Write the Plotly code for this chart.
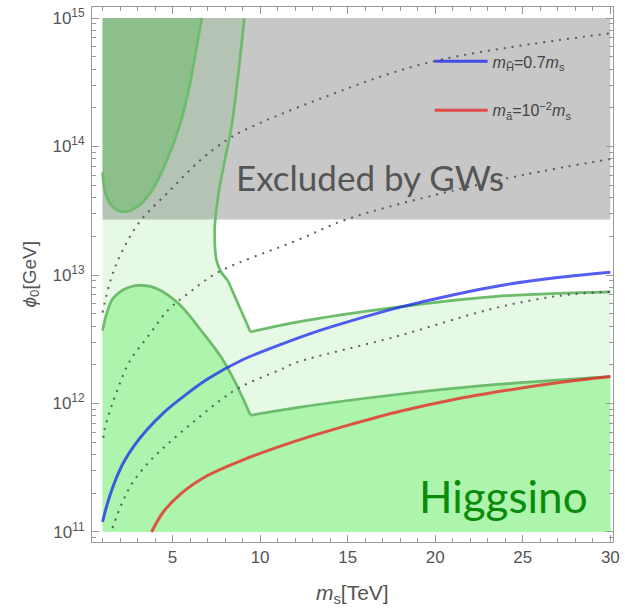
import plotly.graph_objects as go

# ---------------- data ----------------
X_MIN, X_MAX = 1.0, 30.0
PHI_MIN, PHI_MAX = 1e11, 1e15
PHI_GW = 2.7e13  # GW exclusion bound

# blue: m_H~ = 0.7 m_s
blue_x = [1.0, 1.3, 1.7, 2.2, 2.8, 3.5, 4.5, 5.5, 7.0, 9.0, 11.0, 13.0, 15.0, 18.0, 21.0, 24.0, 27.0, 30.0]
blue_phi = [1.2e11, 1.7e11, 2.45e11, 3.47e11, 4.68e11, 6.17e11, 8.5e11, 1.1e12, 1.55e12, 2.19e12,
            2.82e12, 3.55e12, 4.32e12, 5.62e12, 7.0e12, 8.4e12, 9.55e12, 1.05e13]

# red: m_a~ = 1e-2 m_s
red_x = [3.8, 4.5, 5.5, 7.0, 9.0, 11.0, 13.0, 15.0, 18.0, 21.0, 24.0, 27.0, 30.0]
red_phi = [1.0e11, 1.45e11, 2.0e11, 2.75e11, 3.63e11, 4.57e11, 5.62e11, 6.76e11, 8.7e11,
           1.07e12, 1.26e12, 1.45e12, 1.62e12]

# lower green boundary (left lobe, then right branch after the kink)
lowL_x = [1.0, 1.2, 1.57, 2.0, 2.6, 3.2, 4.05, 5.34, 6.63, 7.77, 8.54, 9.45]
lowL_phi = [3.7e12, 4.8e12, 6.5e12, 7.4e12, 8.1e12, 8.3e12, 7.9e12, 6.0e12, 3.7e12, 2.3e12,
            1.5e12, 8.1e11]
lowR_x = [9.45, 12.1, 17.7, 23.35, 30.0]
lowR_phi = [8.1e11, 9.3e11, 1.17e12, 1.4e12, 1.62e12]

# upper green boundary (steep branch, straight drop, right branch)
upL_x = [9.1, 8.73, 8.36, 7.98, 7.6, 7.42, 7.4, 7.5, 7.75, 8.15]
upL_phi = [1e15, 3.47e14, 1.41e14, 7.8e13, 4.1e13, 2.5e13, 2.24e13, 1.32e13, 1.07e13, 9.1e12]
upR_x = [9.45, 12.1, 17.7, 23.35, 30.0]
upR_phi = [3.6e12, 4.3e12, 5.6e12, 6.8e12, 7.4e12]

# U-shaped green boundary (inside the GW region)
u_x = [1.0, 1.22, 1.69, 2.25, 3.0, 3.76, 4.69, 5.44, 6.0, 6.38, 6.67]
u_phi = [6.3e13, 4.1e13, 3.3e13, 3.1e13, 3.4e13, 4.4e13, 7.9e13, 1.51e14, 3.1e14, 6.0e14, 1e15]

# dotted contours
dA_x = [1.0, 1.5, 2.1, 3.1, 4.88, 6.57, 8.07, 9.0, 13.2, 19.6, 30.0]
dA_phi = [5.1e12, 9.5e12, 1.51e13, 2.57e13, 4.6e13, 7.8e13, 1.12e14, 1.32e14, 2.29e14, 4.5e14, 7.6e14]

dB_x = [1.05, 1.11, 1.39, 1.78, 2.52, 3.65, 4.78, 5.9, 7.6, 12.1, 14.9, 20.0, 25.0, 30.0]
dB_phi = [5.4e11, 6.2e11, 8.5e11, 1.2e12, 2.1e12, 3.4e12, 5.4e12, 7.2e12, 1.05e13, 1.86e13,
          2.7e13, 4.2e13, 6.0e13, 8.0e13]

dC_x = [1.57, 2.13, 2.7, 3.65, 4.77, 6.3, 7.77, 8.9, 11.1, 12.1, 17.7, 23.35, 27.1, 30.0]
dC_phi = [1.07e11, 1.7e11, 2.4e11, 3.5e11, 4.9e11, 7.4e11, 1.07e12, 1.35e12, 1.82e12, 2.09e12,
          3.3e12, 5.5e12, 6.9e12, 7.4e12]

y_tickvals = [1e11, 1e12, 1e13, 1e14, 1e15]
y_ticktext = ["10<sup>11</sup>", "10<sup>12</sup>", "10<sup>13</sup>", "10<sup>14</sup>", "10<sup>15</sup>"]
x_tickvals = [5, 10, 15, 20, 25, 30]

# ---------------- styles ----------------
LIGHT_GREEN = "#e5f9e5"
MID_GREEN = "#adf4ad"
GRAY = "rgba(70,70,70,0.3)"
LINE_GREEN = "#6cbc6c"
DOT = "rgba(70,70,70,0.85)"

fig = go.Figure()

# light green region: left of / below the upper boundary
fig.add_trace(go.Scatter(
    x=[X_MIN, X_MIN] + upL_x + upR_x + [X_MAX],
    y=[PHI_MIN, PHI_MAX] + upL_phi + upR_phi + [PHI_MIN],
    fill="toself", fillcolor=LIGHT_GREEN, mode="none", showlegend=False, hoverinfo="skip"))

# medium green: below lower boundary
fig.add_trace(go.Scatter(
    x=[X_MIN] + lowL_x + lowR_x + [X_MAX],
    y=[PHI_MIN] + lowL_phi + lowR_phi + [PHI_MIN],
    fill="toself", fillcolor=MID_GREEN, mode="none", showlegend=False, hoverinfo="skip"))

# medium green: above U boundary
fig.add_trace(go.Scatter(
    x=u_x + [X_MIN],
    y=u_phi + [PHI_MAX],
    fill="toself", fillcolor=MID_GREEN, mode="none", showlegend=False, hoverinfo="skip"))

# GW excluded region
fig.add_trace(go.Scatter(
    x=[X_MIN, X_MAX, X_MAX, X_MIN],
    y=[PHI_GW, PHI_GW, PHI_MAX, PHI_MAX],
    fill="toself", fillcolor=GRAY, mode="none", showlegend=False, hoverinfo="skip"))

# green boundary lines
for xs, ys, shape in [(lowL_x, lowL_phi, "spline"), (lowR_x, lowR_phi, "spline"),
                      (upL_x, upL_phi, "spline"), ([upL_x[-1], upR_x[0]], [upL_phi[-1], upR_phi[0]], "linear"),
                      (upR_x, upR_phi, "spline"), (u_x, u_phi, "spline")]:
    fig.add_trace(go.Scatter(x=xs, y=ys, mode="lines", line=dict(color=LINE_GREEN, width=2.7, shape=shape),
                             showlegend=False, hoverinfo="skip"))

# dotted contours
for xs, ys in [(dA_x, dA_phi), (dB_x, dB_phi), (dC_x, dC_phi)]:
    fig.add_trace(go.Scatter(x=xs, y=ys, mode="lines", line=dict(color=DOT, width=2, dash="2px,6px"),
                             showlegend=False, hoverinfo="skip", line_shape="spline"))

# blue & red
fig.add_trace(go.Scatter(x=blue_x, y=blue_phi, mode="lines", line_shape="spline",
                         line=dict(color="rgba(20,30,240,0.72)", width=3),
                         name="<i>m</i><sub>H̃</sub>=0.7<i>m</i><sub>s</sub>", legendgroup="b"))
fig.add_trace(go.Scatter(x=red_x, y=red_phi, mode="lines", line_shape="spline",
                         line=dict(color="rgba(235,30,30,0.75)", width=3),
                         name="<i>m</i><sub>ã</sub>=10<sup>−2</sup><i>m</i><sub>s</sub>", legendgroup="r"))

AX_COL = "#999999"
TICK_FONT = dict(family="Liberation Sans, Arial, sans-serif", size=17, color="#555555")

fig.update_layout(
    width=625, height=612,
    margin=dict(l=92, r=5, t=7, b=70),
    paper_bgcolor="white", plot_bgcolor="white",
    showlegend=True,
    legend=dict(x=0.648, y=0.93, xanchor="left", yanchor="top", bgcolor="rgba(0,0,0,0)",
                font=dict(family="Liberation Sans, Arial, sans-serif", size=16, color="#444444"),
                tracegroupgap=25, itemwidth=53),
    xaxis=dict(range=[0.4, 30.15], showgrid=False, zeroline=False, showline=True, linecolor=AX_COL,
               linewidth=1, mirror="allticks", ticks="inside", ticklen=7, tickcolor=AX_COL,
               tickvals=x_tickvals, tickfont=TICK_FONT, ticklabeloverflow="allow",
               minor=dict(ticks="inside", ticklen=4, tickcolor=AX_COL, dtick=1, tick0=0)),
    yaxis=dict(type="log", range=[10.922, 15.086], showgrid=False, zeroline=False, showline=True,
               linecolor=AX_COL, linewidth=1, mirror="allticks", ticks="inside", ticklen=7,
               tickcolor=AX_COL, tickvals=y_tickvals, ticktext=y_ticktext, tickfont=TICK_FONT,
               ticklabeloverflow="allow", ticklabelstandoff=3,
               minor=dict(ticks="inside", ticklen=4, tickcolor=AX_COL,
                          tickvals=[m * 10 ** e for e in range(10, 15) for m in range(2, 10)])),
)

fig.add_annotation(x=16.3, y=13.76, xref="x", yref="y", text="Excluded by GWs", showarrow=False,
                   font=dict(family="Lato", size=35, color="#555555"))
fig.add_annotation(x=23.9, y=11.28, xref="x", yref="y", text="Higgsino", showarrow=False,
                   font=dict(family="Lato", size=44, color="#0a8c0a"))
fig.add_annotation(x=0, y=0.5, xref="paper", yref="paper", xanchor="center", xshift=-62, textangle=-90,
                   text="<i>ϕ</i><sub>0</sub>[GeV]", showarrow=False,
                   font=dict(family="Liberation Sans, Arial, sans-serif", size=19, color="#555555"))
fig.add_annotation(x=0.5, y=0, xref="paper", yref="paper", yanchor="middle", yshift=-52,
                   text="<i>m</i><sub>s</sub>[TeV]", showarrow=False,
                   font=dict(family="Liberation Sans, Arial, sans-serif", size=21, color="#555555"))

fig.write_html("out.html")
